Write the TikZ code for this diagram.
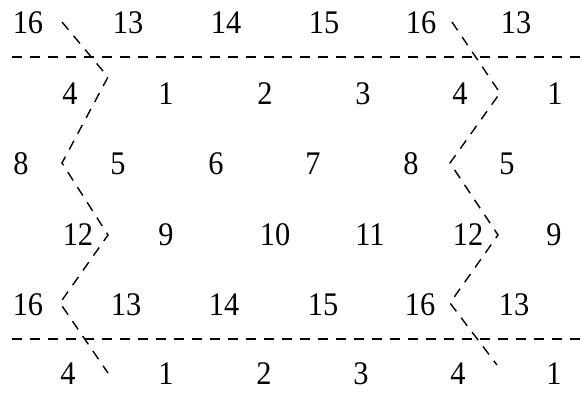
\documentclass[tikz,border=0pt]{standalone}
\usepackage{fontspec}
\setmainfont{Liberation Serif}
\usepackage{graphicx}
\newcommand{\lbl}[1]{\scalebox{0.92}[1.0]{#1}}
\begin{document}
\begin{tikzpicture}[x=0.5pt,y=-0.5pt,
  num/.style={inner sep=0pt,font=\fontsize{16.5}{16.5}\selectfont},
  cut/.style={draw=black,line width=0.7pt,dash pattern=on 5pt off 4pt}]
\useasboundingbox (0,0) rectangle (585,392);
% row 1
\node[num] (a1) at (28,23) {\lbl{16}};
\node[num] (a2) at (128,23) {\lbl{13}};
\node[num] (a3) at (226,23) {\lbl{14}};
\node[num] (a4) at (324,23) {\lbl{15}};
\node[num] (a5) at (421,23) {\lbl{16}};
\node[num] (a6) at (516,23) {\lbl{13}};
% row 2
\node[num] (b1) at (70,94) {\lbl{4}};
\node[num] (b2) at (166,94) {\lbl{1}};
\node[num] (b3) at (265,94) {\lbl{2}};
\node[num] (b4) at (363,94) {\lbl{3}};
\node[num] (b5) at (460,94) {\lbl{4}};
\node[num] (b6) at (555,94) {\lbl{1}};
% row 3
\node[num] (c1) at (21,164) {\lbl{8}};
\node[num] (c2) at (118,164) {\lbl{5}};
\node[num] (c3) at (216,164) {\lbl{6}};
\node[num] (c4) at (313,164) {\lbl{7}};
\node[num] (c5) at (411,164) {\lbl{8}};
\node[num] (c6) at (507,164) {\lbl{5}};
% row 4
\node[num] (d1) at (78,235) {\lbl{12}};
\node[num] (d2) at (166,235) {\lbl{9}};
\node[num] (d3) at (275,235) {\lbl{10}};
\node[num] (d4) at (370,235) {\lbl{11}};
\node[num] (d5) at (468,235) {\lbl{12}};
\node[num] (d6) at (554,235) {\lbl{9}};
% row 5
\node[num] (e1) at (28,305) {\lbl{16}};
\node[num] (e2) at (126,305) {\lbl{13}};
\node[num] (e3) at (224,305) {\lbl{14}};
\node[num] (e4) at (323,305) {\lbl{15}};
\node[num] (e5) at (420,305) {\lbl{16}};
\node[num] (e6) at (514,305) {\lbl{13}};
% row 6
\node[num] (f1) at (68,374) {\lbl{4}};
\node[num] (f2) at (166,374) {\lbl{1}};
\node[num] (f3) at (264,374) {\lbl{2}};
\node[num] (f4) at (361,374) {\lbl{3}};
\node[num] (f5) at (458,374) {\lbl{4}};
\node[num] (f6) at (554,374) {\lbl{1}};
% horizontal cut lines
\coordinate (h1s) at (12,57);
\coordinate (h1e) at (585,57);
\coordinate (h2s) at (12,339);
\coordinate (h2e) at (585,339);
\draw[cut] (h1s) -- (h1e);
\draw[cut] (h2s) -- (h2e);
% left zigzag
\coordinate (l1) at (62,22);
\coordinate (l2) at (108,77);
\coordinate (l3) at (62,163);
\coordinate (l4) at (108,235);
\coordinate (l5) at (60,303);
\coordinate (l6) at (108,373);
\draw[cut] (l1) -- (l2) -- (l3) -- (l4) -- (l5) -- (l6);
% right zigzag
\coordinate (r1) at (452,22);
\coordinate (r2) at (500,93);
\coordinate (r3) at (450,163);
\coordinate (r4) at (498,235);
\coordinate (r5) at (450,303);
\coordinate (r6) at (497,365);
\draw[cut] (r1) -- (r2) -- (r3) -- (r4) -- (r5) -- (r6);
\end{tikzpicture}
\end{document}
